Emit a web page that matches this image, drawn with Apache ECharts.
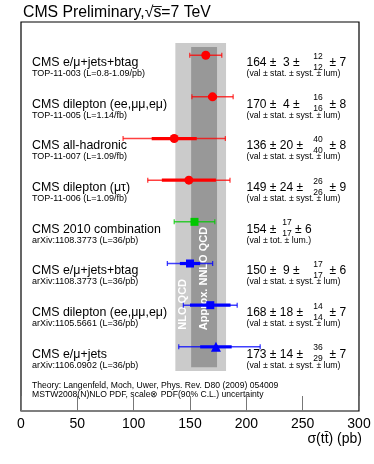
<!DOCTYPE html>
<html><head><meta charset="utf-8">
<script src="https://cdn.jsdelivr.net/npm/echarts@6/dist/echarts.min.js"></script>
<style>html,body{margin:0;padding:0;background:#fff}#c{width:374px;height:464px}</style>
</head><body><div id="c"></div>
<script>
// ---------------- data ----------------
const measurements = [
  "CMS e/\u03bc+jets+btag",
  "CMS dilepton (ee,\u03bc\u03bc,e\u03bc)",
  "CMS all-hadronic",
  "CMS dilepton (\u03bc\u03c4)",
  "CMS 2010 combination",
  "CMS e/\u03bc+jets+btag",
  "CMS dilepton (ee,\u03bc\u03bc,e\u03bc)",
  "CMS e/\u03bc+jets"
];
const references = [
  "TOP-11-003 (L=0.8-1.09/pb)",
  "TOP-11-005 (L=1.14/fb)",
  "TOP-11-007 (L=1.09/fb)",
  "TOP-11-006 (L=1.09/fb)",
  "arXiv:1108.3773 (L=36/pb)",
  "arXiv:1108.3773 (L=36/pb)",
  "arXiv:1105.5661 (L=36/pb)",
  "arXiv:1106.0902 (L=36/pb)"
];
const xsec      = [164, 170, 136, 149, 154, 150, 168, 173];
const statErr   = [3, 4, 20, 24, null, 9, 18, 14];
const systUp    = [12, 16, 40, 26, 17, 17, 14, 36];
const systDown  = [12, 16, 40, 26, 17, 17, 14, 29];
const lumiErr   = [7, 8, 8, 9, 6, 6, 7, 7];
const totalDown = [14.2, 18.3, 45.4, 36.5, 18.0, 20.1, 23.9, 33.0];
const totalUp   = [14.2, 18.3, 45.4, 36.5, 18.0, 20.1, 23.9, 39.3];
const captions = [
  "(val \u00b1 stat. \u00b1 syst. \u00b1 lum)",
  "(val \u00b1 stat. \u00b1 syst. \u00b1 lum)",
  "(val \u00b1 stat. \u00b1 syst. \u00b1 lum)",
  "(val \u00b1 stat. \u00b1 syst. \u00b1 lum)",
  "(val \u00b1 tot. \u00b1 lum.)",
  "(val \u00b1 stat. \u00b1 syst. \u00b1 lum)",
  "(val \u00b1 stat. \u00b1 syst. \u00b1 lum)",
  "(val \u00b1 stat. \u00b1 syst. \u00b1 lum)"
];
const theoryNames = ["NLO QCD", "Approx. NNLO QCD"];
const theoryLow   = [137, 151];
const theoryHigh  = [182, 174];
const xTicks = [0, 50, 100, 150, 200, 250, 300];
const titleHead = "CMS Preliminary,\u221A";
const titleTail = "s=7 TeV";
const xTitle = "\u03c3(tt\u0304) (pb)";
const theoryNote = [
  "Theory: Langenfeld, Moch, Uwer, Phys. Rev. D80 (2009) 054009",
  "MSTW2008(N)NLO PDF, scale\u2297 PDF(90% C.L.) uncertainty"
];

// ---------------- styles ----------------
const FONT = "'Liberation Sans', Arial, Helvetica, sans-serif";
const TITLE_FONT = '15.8px ' + FONT;
const groupColor = ['#ff0000','#ff0000','#ff0000','#ff0000','#00c800','#0000ff','#0000ff','#0000ff'];
const groupSymbol = ['circle','circle','circle','circle','rect','rect','rect','triangle'];
const groupSize = [9,9,9,9,8,8,8,10];

// measure title pieces for the square-root overline
const mctx = document.createElement('canvas').getContext('2d');
mctx.font = TITLE_FONT;
const wHead = mctx.measureText(titleHead).width;
const wS = mctx.measureText('s').width;

const chart = echarts.init(document.getElementById('c'), null, {renderer: 'canvas'});
const rows = xsec.map((v, i) => [v, i]);

function bandRender(params, api) {
  const i = params.dataIndex;
  const yTop = i === 0 ? -0.294 : -0.199;
  const yBot = i === 0 ? 7.58 : 7.49;
  const a = api.coord([theoryLow[i], yTop]);
  const b = api.coord([theoryHigh[i], yBot]);
  const mid = api.coord([(theoryLow[i] + theoryHigh[i]) / 2, i === 0 ? 5.98 : 5.36]);
  const cx = i === 0 ? api.coord([143.8, 0])[0] : mid[0];
  return {
    type: 'group',
    children: [
      {type: 'rect', shape: {x: a[0], y: a[1], width: b[0] - a[0], height: b[1] - a[1]},
       style: {fill: i === 0 ? '#cbcbcb' : '#989898'}},
      {type: 'text', x: cx, y: mid[1], rotation: Math.PI / 2,
       style: {text: theoryNames[i], x: 0, y: 0, align: 'center', verticalAlign: 'middle',
               fill: '#ffffff', font: 'bold 11px ' + FONT}}
    ]
  };
}

function errRender(params, api) {
  const i = params.dataIndex;
  const v = xsec[i];
  const col = groupColor[i];
  const p0 = api.coord([v - totalDown[i], i]);
  const p1 = api.coord([v + totalUp[i], i]);
  const ch = [
    {type: 'line', shape: {x1: p0[0], y1: p0[1], x2: p1[0], y2: p1[1]},
     style: {stroke: col, lineWidth: 1.5, opacity: 0.75}},
    {type: 'line', shape: {x1: p0[0], y1: p0[1] - 2.5, x2: p0[0], y2: p0[1] + 2.5},
     style: {stroke: col, lineWidth: 1.3, opacity: 0.75}},
    {type: 'line', shape: {x1: p1[0], y1: p1[1] - 2.5, x2: p1[0], y2: p1[1] + 2.5},
     style: {stroke: col, lineWidth: 1.3, opacity: 0.75}}
  ];
  if (statErr[i]) {
    const s0 = api.coord([v - statErr[i], i]);
    const s1 = api.coord([v + statErr[i], i]);
    ch.push({type: 'line', shape: {x1: s0[0], y1: s0[1], x2: s1[0], y2: s1[1]},
             style: {stroke: col, lineWidth: 3.2}});
  }
  return {type: 'group', children: ch};
}

function textRender(params, api) {
  const i = params.dataIndex;
  const y = api.coord([0, i])[1];
  const lab = '12.4px ' + FONT, val = '12px ' + FONT, small = '9px ' + FONT, cap = '8.7px ' + FONT, sup = '8.5px ' + FONT;
  const ch = [
    {type: 'text', style: {text: measurements[i], x: 32, y: y + 7.5, verticalAlign: 'middle', font: lab, fill: '#000'}},
    {type: 'text', style: {text: references[i], x: 32, y: y + 18.3, verticalAlign: 'middle', font: small, fill: '#000'}},
    {type: 'text', style: {text: captions[i], x: 246.5, y: y + 18.5, verticalAlign: 'middle', font: cap, fill: '#000'}}
  ];
  let prefix, supX, lumX;
  if (statErr[i] == null) {
    prefix = xsec[i] + " \u00b1";
    supX = 287; lumX = 295;
  } else {
    const s = String(statErr[i]);
    prefix = xsec[i] + " \u00b1 " + (s.length < 2 ? " " + s : s) + " \u00b1";
    supX = 318; lumX = 329.5;
  }
  ch.push({type: 'text', style: {text: prefix, x: 246.5, y: y + 7.5, verticalAlign: 'middle', font: val, fill: '#000'}});
  ch.push({type: 'text', style: {text: String(systUp[i]), x: supX, y: y + 1, align: 'center', verticalAlign: 'middle', font: sup, fill: '#000'}});
  ch.push({type: 'text', style: {text: String(systDown[i]), x: supX, y: y + 12, align: 'center', verticalAlign: 'middle', font: sup, fill: '#000'}});
  ch.push({type: 'text', style: {text: "\u00b1 " + lumiErr[i], x: lumX, y: y + 7.5, verticalAlign: 'middle', font: val, fill: '#000'}});
  return {type: 'group', children: ch};
}

const option = {
  animation: false,
  backgroundColor: '#ffffff',
  grid: {left: 21, right: 15, top: 22, bottom: 53, show: true, borderColor: '#000', borderWidth: 1.2, backgroundColor: 'transparent'},
  xAxis: {
    type: 'value', min: xTicks[0], max: xTicks[xTicks.length - 1], interval: xTicks[1] - xTicks[0],
    axisLine: {show: false, onZero: false},
    axisTick: {show: true, inside: true, length: 15, lineStyle: {color: '#777', width: 1}},
    axisLabel: {fontSize: 14, color: '#000', margin: 6, fontFamily: FONT,
      formatter: v => xTicks.includes(v) ? String(v) : ''},
    splitLine: {show: false}
  },
  yAxis: {type: 'value', inverse: true, min: -0.797, max: 8.54, show: false},
  graphic: [
    {type: 'text', left: 23, top: 5, style: {text: titleHead + titleTail, font: TITLE_FONT, fill: '#000'}},
    {type: 'line', shape: {x1: 23 + wHead - 0.5, y1: 6.5, x2: 23 + wHead + wS + 0.5, y2: 6.5}, style: {stroke: '#000', lineWidth: 0.9}},
    {type: 'text', right: 12, top: 432, style: {text: xTitle, font: '14px ' + FONT, fill: '#000'}},
    {type: 'text', left: 32, top: 381.5, style: {text: theoryNote[0], font: '8.6px ' + FONT, fill: '#000'}},
    {type: 'text', left: 32, top: 390.5, style: {text: theoryNote[1], font: '8.6px ' + FONT, fill: '#000'}}
  ],
  series: [
    {type: 'custom', z: 1, renderItem: bandRender, data: theoryLow.map((l, i) => [l, i]), encode: {x: 0, y: 1}, silent: true},
    {type: 'custom', z: 3, renderItem: errRender, data: rows, encode: {x: 0, y: 1}, silent: true},
    {type: 'scatter', z: 4, data: rows.map((r, i) => ({value: r, symbol: groupSymbol[i], symbolSize: groupSize[i], itemStyle: {color: groupColor[i], opacity: 1}}))},
    {type: 'custom', z: 5, renderItem: textRender, data: rows, encode: {x: 0, y: 1}, silent: true}
  ]
};
chart.setOption(option);
</script></body></html>
